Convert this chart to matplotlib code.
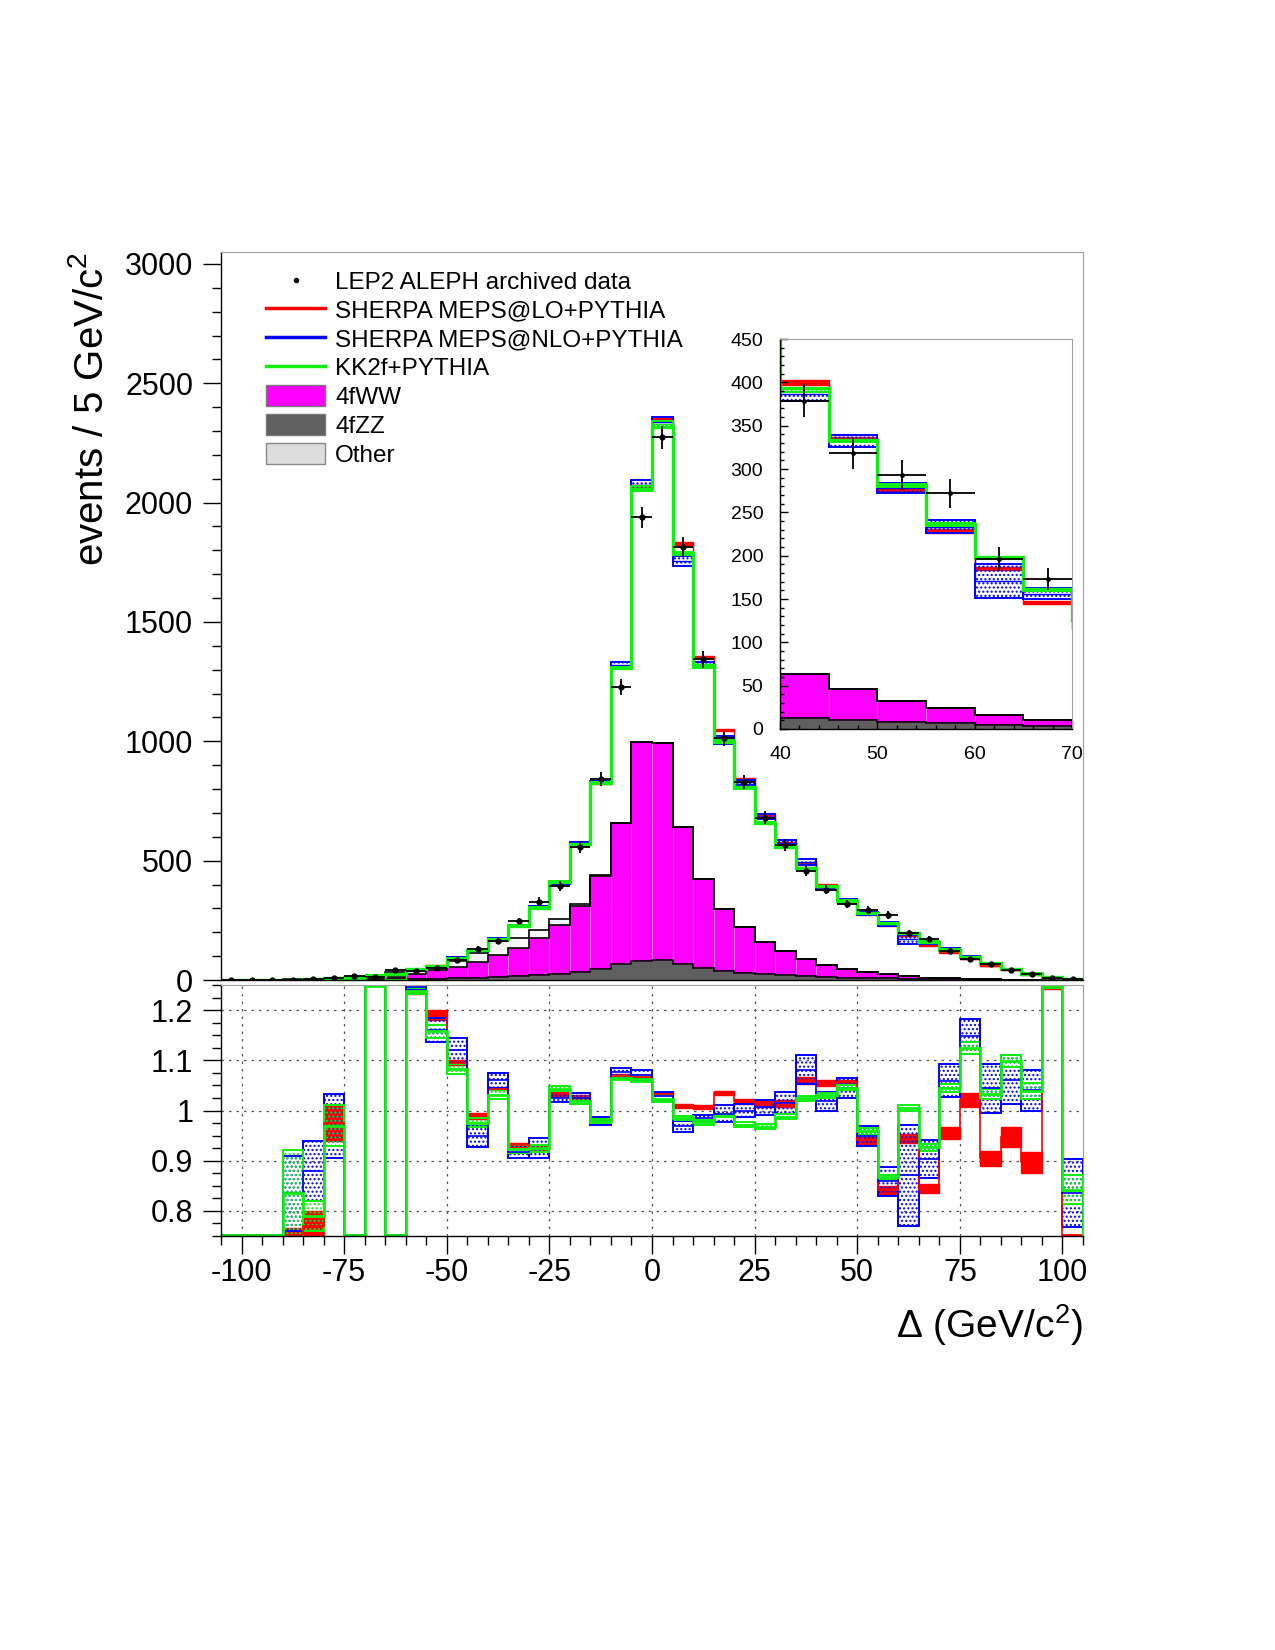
import numpy as np
import matplotlib
matplotlib.use('Agg')
import matplotlib.pyplot as plt
from matplotlib.lines import Line2D
from matplotlib.patches import Patch
from matplotlib.ticker import MultipleLocator, FormatStrFormatter

plt.rcParams['font.family'] = ['Liberation Sans', 'DejaVu Sans']
plt.rcParams['mathtext.fontset'] = 'custom'
plt.rcParams['mathtext.rm'] = 'Liberation Sans'
plt.rcParams['mathtext.default'] = 'regular'
plt.rcParams['axes.unicode_minus'] = False
plt.rcParams['hatch.linewidth'] = 1.0

# 5 GeV bins from -105 to 105
edges = np.arange(-105, 106, 5)
centers = edges[:-1] + 2.5

# events per bin
data = np.array([0, 0, 0, 2, 4, 8, 15, 12, 40, 36, 51, 84, 129, 165, 246, 328, 394, 557, 843, 1227,
                 1938, 2274, 1813, 1343, 1012, 828, 680, 566, 458, 379, 318, 293, 272, 196, 173, 122,
                 86, 67, 43, 26, 7, 4])
kk2f = np.array([1, 1, 1, 2, 3, 8, 12, 17, 25, 45, 59, 89, 126, 170, 226, 303, 410, 568, 826, 1307,
                 2056, 2318, 1790, 1318, 998, 810, 659, 557, 470, 393, 333, 282, 237, 198, 161, 126,
                 98, 70, 47, 27, 12, 3])
ww = np.array([0, 0, 0, 1, 2, 2, 3, 5, 10, 19, 35, 47, 67, 91, 117, 153, 205, 277, 388, 593,
               917, 907, 575, 374, 258, 191, 136, 102, 72, 50, 36, 24, 17, 11, 7, 5,
               3, 2, 1, 0, 0, 0])
zz = np.array([1, 1, 1, 1, 1, 2, 2, 3, 4, 5, 6, 8, 10, 13, 17, 21, 25, 33, 46, 65,
               81, 84, 67, 49, 39, 31, 24, 19, 16, 13, 10, 8, 7, 5, 3, 2,
               2, 1, 1, 1, 1, 0])
other = np.array([0, 0, 0, 1, 2, 3, 9, 5, 21, 15, 14, 25, 37, 60, 42, 35, 25, 10, 5, 0,
                  0, 0, 0, 0, 0, 0, 0, 0, 0, 0, 0, 0, 0, 0, 0, 0,
                  0, 0, 0, 0, 0, 0])

# MC / data ratio bands (low, high)
red_lo = np.array([0, 0, 0, 0.74, 0.74, 0.94, 0, 1.6, 0, 1.233, 1.18, 1.09, 0.983, 1.04, 0.928, 0.922,
                   1.027, 1.018, 0.975, 1.064, 1.062, 1.03, 1.005, 1.003, 1.03, 1.013, 1.007, 1.007,
                   1.053, 1.048, 1.053, 0.933, 0.833, 0.935, 0.835, 0.943, 1.007, 0.89, 0.928, 0.875,
                   1.243, 0.72])
red_hi = np.array([0, 0, 0, 0.765, 0.80, 1.01, 0, 1.6, 0, 1.243, 1.20, 1.10, 0.995, 1.047, 0.936, 0.93,
                   1.037, 1.03, 0.985, 1.072, 1.07, 1.037, 1.013, 1.01, 1.038, 1.023, 1.02, 1.02,
                   1.067, 1.061, 1.06, 0.948, 0.85, 0.953, 0.853, 0.967, 1.035, 0.92, 0.967, 0.918,
                   1.248, 0.752])
blue_lo = np.array([0, 0, 0, 0.76, 0.82, 0.905, 0, 1.6, 0, 1.243, 1.137, 1.095, 0.927, 1.045, 0.905, 0.905,
                    1.017, 1.013, 0.972, 1.067, 1.06, 1.019, 0.957, 0.98, 0.977, 0.987, 0.992, 0.993,
                    1.053, 1.0, 1.025, 0.93, 0.83, 0.77, 0.865, 1.027, 1.113, 0.995, 1.012, 1.0,
                    1.245, 0.767])
blue_hi = np.array([0, 0, 0, 0.91, 0.939, 1.033, 0, 1.6, 0, 1.25, 1.185, 1.145, 0.97, 1.075, 0.93, 0.945,
                    1.032, 1.035, 0.988, 1.085, 1.08, 1.037, 0.98, 0.991, 1.01, 1.013, 1.021, 1.037,
                    1.11, 1.037, 1.065, 0.97, 0.888, 0.972, 0.942, 1.092, 1.183, 1.093, 1.11, 1.08,
                    1.26, 0.903])
green_lo = np.array([0, 0, 0, 0.75, 0.76, 0.93, 0, 1.6, 0, 1.233, 1.145, 1.072, 0.967, 1.023, 0.915, 0.918,
                     1.039, 1.013, 0.975, 1.061, 1.057, 1.017, 0.981, 0.972, 0.987, 0.967, 0.963, 0.983,
                     1.019, 1.025, 1.04, 0.952, 0.862, 1.0, 0.92, 1.037, 1.113, 1.023, 1.087, 1.023,
                     1.245, 0.813])
green_hi = np.array([0, 0, 0, 0.922, 0.82, 1.01, 0, 1.6, 0, 1.245, 1.17, 1.092, 0.985, 1.04, 0.932, 0.932,
                     1.048, 1.025, 0.983, 1.068, 1.068, 1.03, 0.99, 0.982, 0.993, 0.977, 0.973, 0.993,
                     1.029, 1.035, 1.05, 0.965, 0.872, 1.011, 0.933, 1.053, 1.137, 1.043, 1.11, 1.055,
                     1.252, 0.872])

RED = '#ff0000'
BLUE = '#0000ff'
GREEN = '#11ee11'
MAGENTA = '#ff00ff'
ZZGREY = '#5f5f5f'
FRAME = '#a0a0a0'

bands = [
    (red_lo, red_hi, RED, None, RED, 1.0),
    (blue_lo, blue_hi, BLUE, '....', 'none', 1.4),
    (green_lo, green_hi, GREEN, '....', 'none', 1.4),
]


def draw_spectrum(ax, ms):
    ax.bar(centers, zz, width=5, color=ZZGREY, edgecolor=ZZGREY, linewidth=0)
    ax.bar(centers, ww, width=5, bottom=zz, color=MAGENTA, edgecolor='#ff80ff', linewidth=0.6)
    ax.bar(centers, other, width=5, bottom=zz + ww, color='#f6f6f6', linewidth=0)
    for top in (zz, zz + ww, zz + ww + other):
        ax.stairs(top, edges, color='black', lw=1.2)
    for lo, hi, col, hatch, face, lw in bands:
        ax.bar(centers, (hi - lo) * data, width=5, bottom=lo * data, facecolor=face,
               edgecolor=col, hatch=hatch, linewidth=lw)
        ax.stairs((lo + hi) / 2 * data, edges, color=col, lw=1.0)
    ax.stairs(kk2f, edges, color=GREEN, lw=2.4)
    ax.errorbar(centers, data, xerr=2.5, yerr=np.sqrt(data), fmt='o', ms=ms,
                color='black', elinewidth=1.3, capsize=0)


def frame(ax):
    ax.spines['top'].set_color(FRAME)
    ax.spines['right'].set_color(FRAME)
    ax.spines['left'].set_linewidth(1.0)
    ax.spines['bottom'].set_linewidth(1.0)


fig = plt.figure(figsize=(12.75, 16.5), dpi=100)
ax = fig.add_axes([221 / 1275, 670 / 1650, 862 / 1275, 728 / 1650])
ax_r = fig.add_axes([221 / 1275, 414 / 1650, 862 / 1275, 251 / 1650])
ax_in = fig.add_axes([780 / 1275, 921 / 1650, 292 / 1275, 390 / 1650])

# ---- main panel
draw_spectrum(ax, 3.5)
ax.set_xlim(-105, 105)
ax.set_ylim(0, 3050)
frame(ax)
ax.set_xticks([])
ax.yaxis.set_major_locator(MultipleLocator(500))
ax.yaxis.set_minor_locator(MultipleLocator(100))
ax.tick_params(axis='y', which='major', direction='out', length=13, width=1, labelsize=22, pad=7)
ax.tick_params(axis='y', which='minor', direction='out', length=6.5, width=1)
ax.set_ylabel('events / 5 GeV/c$^{2}$', fontsize=29, loc='top')
ax.yaxis.set_label_coords(-0.128, 1.0)

handles = [
    Line2D([], [], marker='o', ms=3, ls='none', color='black'),
    Line2D([], [], color=RED, lw=2.5),
    Line2D([], [], color=BLUE, lw=2.5),
    Line2D([], [], color=GREEN, lw=2.5),
    Patch(facecolor=MAGENTA, edgecolor='#777777'),
    Patch(facecolor=ZZGREY, edgecolor='#777777'),
    Patch(facecolor='#dddddd', edgecolor='#888888'),
]
labels = ['LEP2 ALEPH archived data', 'SHERPA MEPS@LO+PYTHIA', 'SHERPA MEPS@NLO+PYTHIA',
          'KK2f+PYTHIA', '4fWW', '4fZZ', 'Other']
ax.legend(handles, labels, loc='upper left', bbox_to_anchor=(0.052, 0.975), frameon=False,
          fontsize=17.5, handlelength=2.45, handleheight=0.95, labelspacing=0.205,
          handletextpad=0.4, borderpad=0, borderaxespad=0)

# ---- inset
draw_spectrum(ax_in, 2.5)
ax_in.set_xlim(40, 70)
ax_in.set_ylim(0, 450)
frame(ax_in)
ax_in.xaxis.set_major_locator(MultipleLocator(10))
ax_in.xaxis.set_minor_locator(MultipleLocator(2))
ax_in.yaxis.set_major_locator(MultipleLocator(50))
ax_in.yaxis.set_minor_locator(MultipleLocator(10))
ax_in.tick_params(which='major', direction='in', length=6, width=1, labelsize=14, pad=12)
ax_in.tick_params(which='minor', direction='in', length=3, width=1)

# ---- ratio panel
ylo, yhi = 0.75, 1.25
for lo, hi, col, hatch, face, lw in bands:
    ax_r.bar(centers, hi - lo, width=5, bottom=lo, facecolor=face, edgecolor=col,
             hatch=hatch, linewidth=lw)
for lo, hi, col, hatch, face, lw in bands:
    # like ROOT, out-of-range steps are drawn along the frame
    ax_r.stairs(np.clip((lo + hi) / 2, ylo + 0.001, yhi - 0.001), edges, color=col,
                lw=2.0 if col == GREEN else 1.2)
ax_r.set_xlim(-105, 105)
ax_r.set_ylim(ylo, yhi)
frame(ax_r)
ax_r.grid(True, which='major', ls=(0, (2, 4)), color='#555555', lw=0.9)
ax_r.set_axisbelow(True)
ax_r.xaxis.set_major_locator(MultipleLocator(25))
ax_r.xaxis.set_minor_locator(MultipleLocator(5))
ax_r.yaxis.set_major_locator(MultipleLocator(0.1))
ax_r.yaxis.set_minor_locator(MultipleLocator(0.025))
ax_r.yaxis.set_major_formatter(FormatStrFormatter('%g'))
ax_r.tick_params(which='major', direction='out', length=13, width=1, labelsize=22, pad=3)
ax_r.tick_params(axis='y', which='major', pad=7)
ax_r.tick_params(which='minor', direction='out', length=6.5, width=1)
ax_r.set_xlabel('\u0394 (GeV/c$^{2}$)', fontsize=28, loc='right')
ax_r.xaxis.set_label_coords(1.0, -0.262)

fig.savefig('out.png', dpi=100)
